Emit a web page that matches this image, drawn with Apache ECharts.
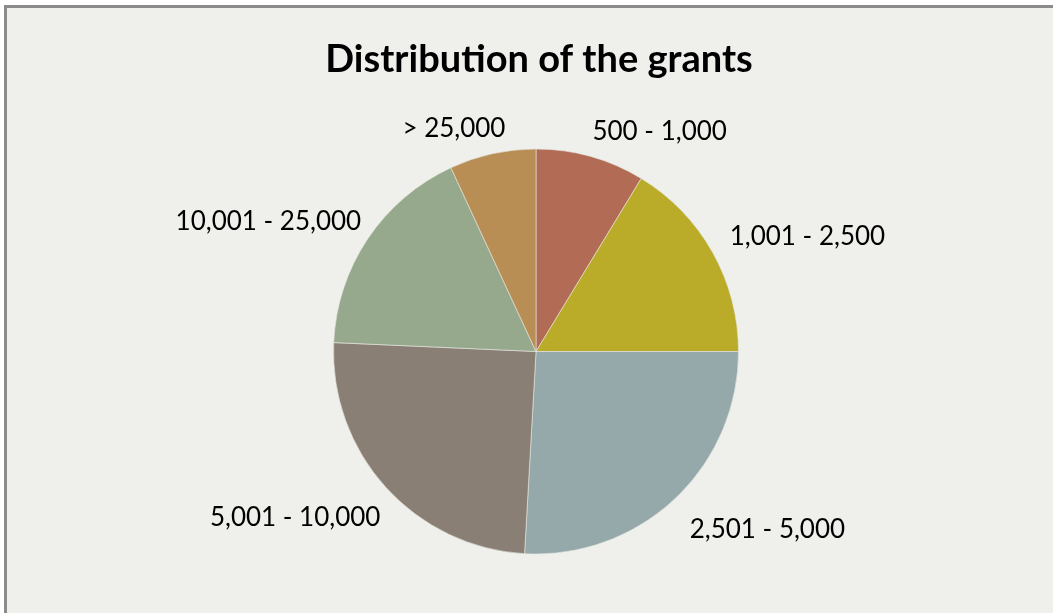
<!DOCTYPE html>
<html>
<head>
<meta charset="utf-8">
<title>Distribution of the grants</title>
<script src="https://cdn.jsdelivr.net/npm/echarts@6/dist/echarts.min.js"></script>
<style>
  html, body { margin: 0; padding: 0; background: #ffffff; }
  #chart { width: 1053px; height: 613px; }
</style>
</head>
<body>
<div id="chart"></div>
<script>
// Grant size bands, clockwise from twelve o'clock
const categories = ['500 - 1,000', '1,001 - 2,500', '2,501 - 5,000', '5,001 - 10,000', '10,001 - 25,000', '> 25,000'];
// Share of grants in each band (%)
const shares = [8.7, 16.3, 25.9, 24.8, 17.4, 6.9];
const colors = ['#b26c55', '#baab28', '#95a8aa', '#8a7f75', '#97a98d', '#b98e55'];

const CX = 536, CY = 351.5, R = 202.5, GAP = 14;
const total = shares.reduce((a, b) => a + b, 0);
const midAngles = [];
let acc = 0;
shares.forEach(v => { midAngles.push(((acc + v / 2) / total) * Math.PI * 2); acc += v; });

const chart = echarts.init(document.getElementById('chart'), null, { renderer: 'canvas' });
chart.setOption({
  backgroundColor: '#ffffff',
  animation: false,
  graphic: [{
    type: 'rect',
    z: -10,
    shape: { x: 5.5, y: 6.5, width: 1120, height: 700 },
    style: { fill: '#eff0eb', stroke: '#8b8b8b', lineWidth: 3 }
  }],
  title: {
    text: 'Distribution of the grants',
    left: 534,
    textAlign: 'center',
    top: 36,
    textStyle: { fontFamily: 'Lato', fontWeight: 'bold', fontSize: 38, color: '#000000' }
  },
  series: [{
    type: 'pie',
    center: [CX, CY],
    radius: R,
    startAngle: 90,
    clockwise: true,
    avoidLabelOverlap: false,
    itemStyle: { borderColor: '#e6e8e1', borderWidth: 0.6 },
    label: {
      show: true,
      position: 'outside',
      formatter: '{b}',
      fontFamily: 'Lato',
      fontSize: 26,
      lineHeight: 30,
      color: '#000000'
    },
    labelLine: { show: false },
    // put the label corner facing the centre on the slice's mid-angle ray,
    // with a small nudge for the near-vertical slices
    labelLayout: function (p) {
      const a = midAngles[p.dataIndex];
      const s = Math.sin(a), c = Math.cos(a);
      const nearVertical = Math.abs(s) < 0.3;
      const dx = nearVertical ? (s < 0 ? 16 : -2) : 5;
      return {
        x: CX + (R + GAP) * s + dx,
        y: CY - (R + GAP) * c + (nearVertical ? 4 : 6),
        align: s >= 0 ? 'left' : 'right',
        verticalAlign: c > 0 ? 'bottom' : 'top'
      };
    },
    emphasis: { disabled: true },
    data: categories.map((name, i) => ({ name: name, value: shares[i], itemStyle: { color: colors[i] } }))
  }]
});
</script>
</body>
</html>
